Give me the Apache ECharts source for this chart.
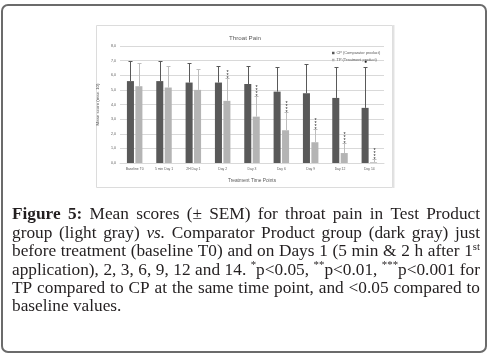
<!DOCTYPE html>
<html>
<head>
<meta charset="utf-8">
<script src="https://cdn.jsdelivr.net/npm/echarts@6/dist/echarts.min.js"></script>
<style>
  html, body { margin: 0; padding: 0; background: #fff; }
  #chart { width: 490px; height: 355px; }
</style>
</head>
<body>
<div id="chart"></div>
<script>
// values
const categories = ['Baseline T0', '5 min Day 1', '2H Day 1', 'Day 2', 'Day 3', 'Day 6', 'Day 9', 'Day 12', 'Day 14'];
const cpMean = [5.6, 5.6, 5.5, 5.5, 5.4, 4.88, 4.77, 4.45, 3.77];
const cpSem = [1.4, 1.4, 1.33, 1.12, 1.22, 1.67, 1.99, 2.13, 2.78];
const tpMean = [5.25, 5.16, 5.0, 4.25, 3.17, 2.24, 1.42, 0.68, 0.05];
const tpSem = [1.62, 1.5, 1.44, 1.55, 1.42, 1.23, 0.88, 0.67, 0.2];
const tpStars = ['', '', '', '***', '****', '****', '****', '****', '****'];
const cpMarks = ['', '', '', '', '', '', '', '', '●'];
const yTicks = [0, 1, 2, 3, 4, 5, 6, 7, 8];

const captionLines = [
  [['Figure 5:', 'b'], [' Mean scores (± SEM) for throat pain in Test Product', 'n']],
  [['group (light gray) ', 'n'], ['vs.', 'i'], [' Comparator Product group (dark gray) just', 'n']],
  [['before treatment (baseline T0) and on Days 1 (5 min & 2 h after 1', 'n'], ['st', 's']],
  [['application), 2, 3, 6, 9, 12 and 14. ', 'n'], ['*', 's'], ['p<0.05, ', 'n'], ['**', 's'],
   ['p<0.01, ', 'n'], ['***', 's'], ['p<0.001 for', 'n']],
  [['TP compared to CP at the same time point, and <0.05 compared to', 'n']],
  [['baseline values.', 'n']]
];

const darkGray = '#595959';
const lightGray = '#b4b4b4';
const textGray = '#595959';

// error bars (with significance marks) drawn over the bars
function errorSeries(name, means, sems, side, color, marks, stacked) {
  return {
    type: 'custom',
    name: name,
    silent: true,
    z: 5,
    encode: { x: 0, y: [1, 2] },
    data: means.map((m, i) => [i, m, m + sems[i]]),
    renderItem(params, api) {
      const band = api.size([1, 0])[0];
      const lo = api.coord([api.value(0), api.value(1)]);
      const hi = api.coord([api.value(0), api.value(2)]);
      const x = Math.round(lo[0] + side * band * 0.144) + 0.5;
      const top = Math.round(hi[1]) + 0.5;
      const kids = [
        { type: 'line', shape: { x1: x, y1: lo[1], x2: x, y2: top }, style: { stroke: color, lineWidth: 1 } },
        { type: 'line', shape: { x1: x - 2, y1: top, x2: x + 2, y2: top }, style: { stroke: color, lineWidth: 1 } }
      ];
      const mark = marks[params.dataIndex];
      if (mark) {
        kids.push({
          type: 'text',
          x: x,
          y: stacked ? top + 1 : top - 3,
          style: {
            text: stacked ? mark.split('').join('\n') : mark,
            fontSize: stacked ? 5.5 : 5,
            lineHeight: stacked ? 2.9 : 5,
            fontFamily: 'Liberation Sans',
            fill: '#222',
            align: 'center',
            verticalAlign: 'bottom'
          }
        });
      }
      return { type: 'group', children: kids };
    }
  };
}

// caption laid out as justified serif text
const capSize = 17.3;
const capLeft = 12, capRight = 480, capBase = 220, capStep = 18.4;
const measureCtx = document.createElement('canvas').getContext('2d');

function segFont(st) {
  return {
    fontSize: st === 's' ? 10.8 : capSize,
    fontWeight: st === 'b' ? 'bold' : 'normal',
    fontStyle: st === 'i' ? 'italic' : 'normal',
    fontFamily: 'Liberation Serif'
  };
}
function segWidth(text, st) {
  const f = segFont(st);
  measureCtx.font = f.fontStyle + ' ' + f.fontWeight + ' ' + f.fontSize + 'px "Liberation Serif"';
  return measureCtx.measureText(text).width;
}
function toWords(line) {
  const words = [[]];
  line.forEach(([text, st]) => {
    text.split(' ').forEach((part, k) => {
      if (k > 0) words.push([]);
      if (part) words[words.length - 1].push([part, st]);
    });
  });
  return words.filter(w => w.length);
}
function captionGraphics() {
  const out = [];
  captionLines.forEach((line, li) => {
    const words = toWords(line);
    const widths = words.map(w => w.reduce((s, [t, st]) => s + segWidth(t, st), 0));
    const total = widths.reduce((a, b) => a + b, 0);
    const last = li === captionLines.length - 1;
    const gap = last ? segWidth(' ', 'n') : (capRight - capLeft - total) / (words.length - 1);
    const base = capBase + li * capStep;
    let x = capLeft;
    words.forEach((w, wi) => {
      let sx = x;
      w.forEach(([t, st]) => {
        const f = segFont(st);
        const b = st === 's' ? base - 6.7 : base;
        out.push({
          type: 'text',
          x: sx,
          y: b - 0.3 * f.fontSize,
          silent: true,
          style: Object.assign({ text: t, fill: '#231f20', align: 'left', verticalAlign: 'middle' }, f)
        });
        sx += segWidth(t, st);
      });
      x += widths[wi] + gap;
    });
  });
  return out;
}

const chart = echarts.init(document.getElementById('chart'), null, { renderer: 'canvas' });

const option = {
  animation: false,
  backgroundColor: '#fff',
  title: {
    text: 'Throat Pain',
    left: 'center',
    top: 30,
    textStyle: { fontSize: 6.2, fontWeight: 'normal', color: textGray, fontFamily: 'Liberation Sans' }
  },
  legend: {
    orient: 'vertical',
    left: 327,
    top: 46,
    itemWidth: 2.5,
    itemHeight: 2.5,
    itemGap: 3,
    icon: 'rect',
    data: ['CP (Comparator product)', 'TP (Treatment product)'],
    textStyle: { fontSize: 3.9, color: textGray, fontFamily: 'Liberation Sans', padding: [0, 0, 0, -3] }
  },
  grid: { left: 120, right: 106, top: 46, bottom: 192 },
  xAxis: {
    type: 'category',
    data: categories,
    name: 'Treatment Time Points',
    nameLocation: 'middle',
    nameGap: 15,
    nameTextStyle: { fontSize: 4.8, color: textGray, fontFamily: 'Liberation Sans' },
    axisLine: { lineStyle: { color: '#d9d9d9' } },
    axisTick: { show: false },
    axisLabel: { interval: 0, fontSize: 3.4, color: textGray, margin: 5, fontFamily: 'Liberation Sans' }
  },
  yAxis: {
    type: 'value',
    min: yTicks[0],
    max: yTicks[yTicks.length - 1],
    interval: 1,
    name: 'Mean score (max. 10)',
    nameLocation: 'middle',
    nameGap: 13,
    nameTextStyle: { fontSize: 4.3, color: textGray, fontFamily: 'Liberation Sans' },
    axisLine: { show: false },
    axisTick: { show: false },
    splitLine: { lineStyle: { color: '#d9d9d9' } },
    axisLabel: {
      fontSize: 3.6, color: textGray, margin: 4, fontFamily: 'Liberation Sans',
      formatter: v => v.toFixed(1).replace('.', ',')
    }
  },
  series: [
    { name: 'CP (Comparator product)', type: 'bar', data: cpMean, barWidth: '24%', barGap: '20%',
      itemStyle: { color: darkGray } },
    { name: 'TP (Treatment product)', type: 'bar', data: tpMean, barWidth: '24%', barGap: '20%',
      itemStyle: { color: lightGray } },
    errorSeries('cpErr', cpMean, cpSem, -1, darkGray, cpMarks, false),
    errorSeries('tpErr', tpMean, tpSem, 1, '#bdbdbd', tpStars, true)
  ],
  graphic: [
    { type: 'rect', silent: true, shape: { x: 2, y: 5, width: 484, height: 347, r: 6 },
      style: { fill: 'none', stroke: '#6b6b6b', lineWidth: 2 } },
    { type: 'rect', silent: true, shape: { x: 96.5, y: 25.5, width: 296, height: 162 },
      style: { fill: 'none', stroke: '#dcdcdc', lineWidth: 1 } },
    { type: 'line', silent: true, shape: { x1: 393.5, y1: 25, x2: 393.5, y2: 188 },
      style: { stroke: '#e2e2e2', lineWidth: 2 } }
  ].concat(captionGraphics())
};

chart.setOption(option);
</script>
</body>
</html>
